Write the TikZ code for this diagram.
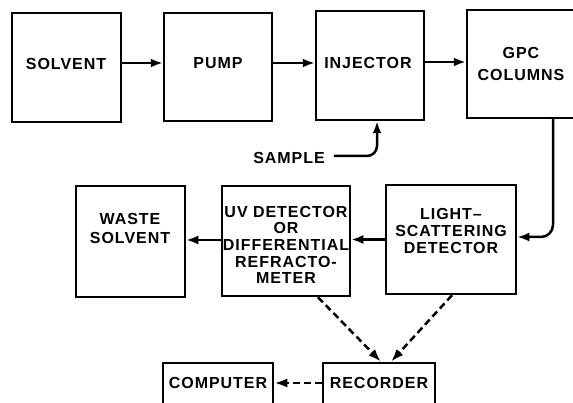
\documentclass[tikz,border=0pt]{standalone}
\usepackage{fontspec}
\setmainfont{Liberation Sans}[LetterSpace=6]
\usetikzlibrary{arrows.meta}
\tikzset{
  box/.style={draw, line width=2.5pt, rectangle, inner sep=0pt},
  lbl/.style={font=\fontsize{16}{16.7}\selectfont\bfseries, align=center, inner sep=0pt},
  lblsp/.style={font=\fontsize{16}{#1}\selectfont\bfseries},
  arr/.style={line width=2.5pt, -{Latex[length=12pt,width=9pt]}},
  darr/.style={line width=2.5pt, dash pattern=on 7pt off 4pt, -{Latex[length=13pt,width=9pt]}}
}
\begin{document}
\begin{tikzpicture}[x=1pt,y=-1pt]
\useasboundingbox (0,0) rectangle (573,403);
\clip (0,0) rectangle (573,403);
% boxes
\node[box, minimum width=109pt, minimum height=109pt] (solvent) at (66.5,67.5) {};
\node[box, minimum width=108pt, minimum height=108pt] (pump) at (218,67) {};
\node[box, minimum width=108pt, minimum height=109pt] (injector) at (370,65.5) {};
\node[box, minimum width=109pt, minimum height=108pt] (gpc) at (521.5,64) {};
\node[box, minimum width=109pt, minimum height=111pt] (waste) at (130.5,241.5) {};
\node[box, minimum width=128pt, minimum height=110pt] (uv) at (286,241) {};
\node[box, minimum width=130pt, minimum height=109pt] (ls) at (451,239.5) {};
\node[box, minimum width=110pt, minimum height=43pt] (computer) at (218,384.5) {};
\node[box, minimum width=112pt, minimum height=43pt] (recorder) at (379,384.5) {};
% labels
\node[lbl] (tsolvent) at (66,64) {SOLVENT};
\node[lbl] (tpump) at (218,63) {PUMP};
\node[lbl] (tinjector) at (368,63) {INJECTOR};
\node[lbl, lblsp=22.5] (tgpc) at (521,64) {GPC\\COLUMNS};
\node[lbl, lblsp=19] (twaste) at (130,228.5) {WASTE\\SOLVENT};
\node[lbl] (tuv) at (286,245) {UV DETECTOR\\OR\\DIFFERENTIAL\\REFRACTO-\\METER};
\node[lbl, lblsp=17] (tls) at (451,231) {LIGHT--\\SCATTERING\\DETECTOR};
\node[lbl] (tcomputer) at (218,383) {COMPUTER};
\node[lbl] (trecorder) at (379,383) {RECORDER};
\node[lbl] (sample) at (289,158) {SAMPLE};
% connectors
\draw[arr] ([yshift=4.5pt]solvent.east) -- ([yshift=4.5pt]solvent.east -| pump.west);
\draw[arr] ([yshift=4pt]pump.east) -- ([yshift=4pt]pump.east -| injector.west);
\draw[arr] ([yshift=3.5pt]injector.east) -- ([yshift=3.5pt]injector.east -| gpc.west);
\draw[arr, rounded corners=12pt] ([xshift=31.5pt]gpc.south) |- ([yshift=2.5pt]ls.east);
\draw[arr, rounded corners=10pt] ([xshift=9pt,yshift=2pt]sample.east) -| ([xshift=7pt]injector.south);
\draw[arr] (ls.west) -- (ls.west -| uv.east);
\draw[arr] ([yshift=1pt]uv.west) -- ([yshift=1pt]uv.west -| waste.east);
\draw[darr] ([xshift=32pt]uv.south) -- ([xshift=2pt]recorder.north);
\draw[darr] ([xshift=1pt]ls.south) -- ([xshift=12pt]recorder.north);
\draw[darr] ([yshift=1.5pt]recorder.west) -- ([yshift=1.5pt]recorder.west -| computer.east);
\end{tikzpicture}
\end{document}
